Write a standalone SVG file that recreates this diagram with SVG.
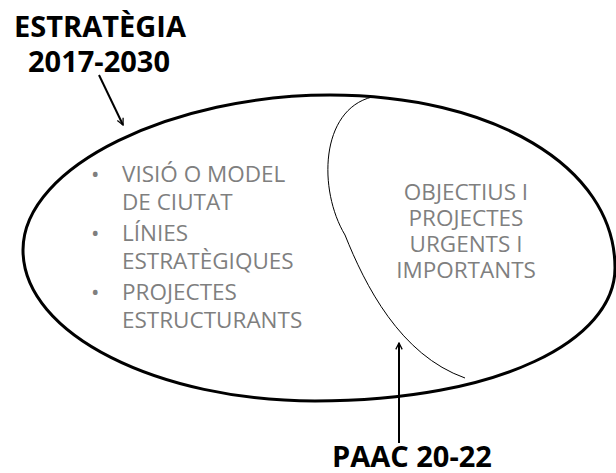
<svg xmlns="http://www.w3.org/2000/svg" width="616" height="473" viewBox="0 0 616 473">
<style>
.title{font-family:"Open Sans",sans-serif;font-weight:bold;font-size:29px;fill:#000;text-anchor:middle}
.g{font-family:"Open Sans",sans-serif;font-size:22.5px;fill:#7f7f7f}
.gc{font-family:"Open Sans",sans-serif;font-size:22.5px;fill:#7f7f7f;text-anchor:middle}
.conn{stroke:#000;stroke-width:2;fill:none}
</style>
<defs>
<marker id="ah" viewBox="0 0 10 10" refX="9" refY="5" markerWidth="8" markerHeight="8" orient="auto" markerUnits="userSpaceOnUse">
<path d="M1,1 L9,5 L1,9" fill="none" stroke="#000" stroke-width="1.6"/>
</marker>
</defs>
<rect width="616" height="473" fill="#fff"/>
<g id="estrategia">
<path d="M23,250 C23,165 175,95 330,95 C490,95 615,165 615,268 C615,340 500,401 315,401 C160,401 23,335 23,250 Z" fill="none" stroke="#000" stroke-width="3"/>
<text class="g"><tspan x="91" y="182">•</tspan><tspan x="122" y="182">VISIÓ O MODEL</tspan></text>
<text class="g" x="122" y="210">DE CIUTAT</text>
<text class="g"><tspan x="91" y="241">•</tspan><tspan x="122" y="241">LÍNIES</tspan></text>
<text class="g" x="122" y="269">ESTRATÈGIQUES</text>
<text class="g"><tspan x="91" y="300">•</tspan><tspan x="122" y="300">PROJECTES</tspan></text>
<text class="g" x="122" y="328">ESTRUCTURANTS</text>
</g>
<g id="paac">
<path d="M372,97 C320,110 318,190 345,235 C365,285 400,355 465,378" fill="none" stroke="#000" stroke-width="1"/>
<text class="gc" x="466" y="200">OBJECTIUS I</text>
<text class="gc" x="466" y="226">PROJECTES</text>
<text class="gc" x="466" y="252">URGENTS I</text>
<text class="gc" x="466" y="278">IMPORTANTS</text>
</g>
<g id="label-estrategia">
<text class="title" x="100" y="37">ESTRATÈGIA</text>
<text class="title" x="99" y="72">2017-2030</text>
</g>
<g id="label-paac">
<text class="title" x="412" y="467">PAAC 20-22</text>
</g>
<g id="connectors">
<line class="conn" x1="99" y1="75" x2="123" y2="125" marker-end="url(#ah)"/>
<line class="conn" x1="399" y1="443" x2="399" y2="343" marker-end="url(#ah)"/>
</g>
</svg>
